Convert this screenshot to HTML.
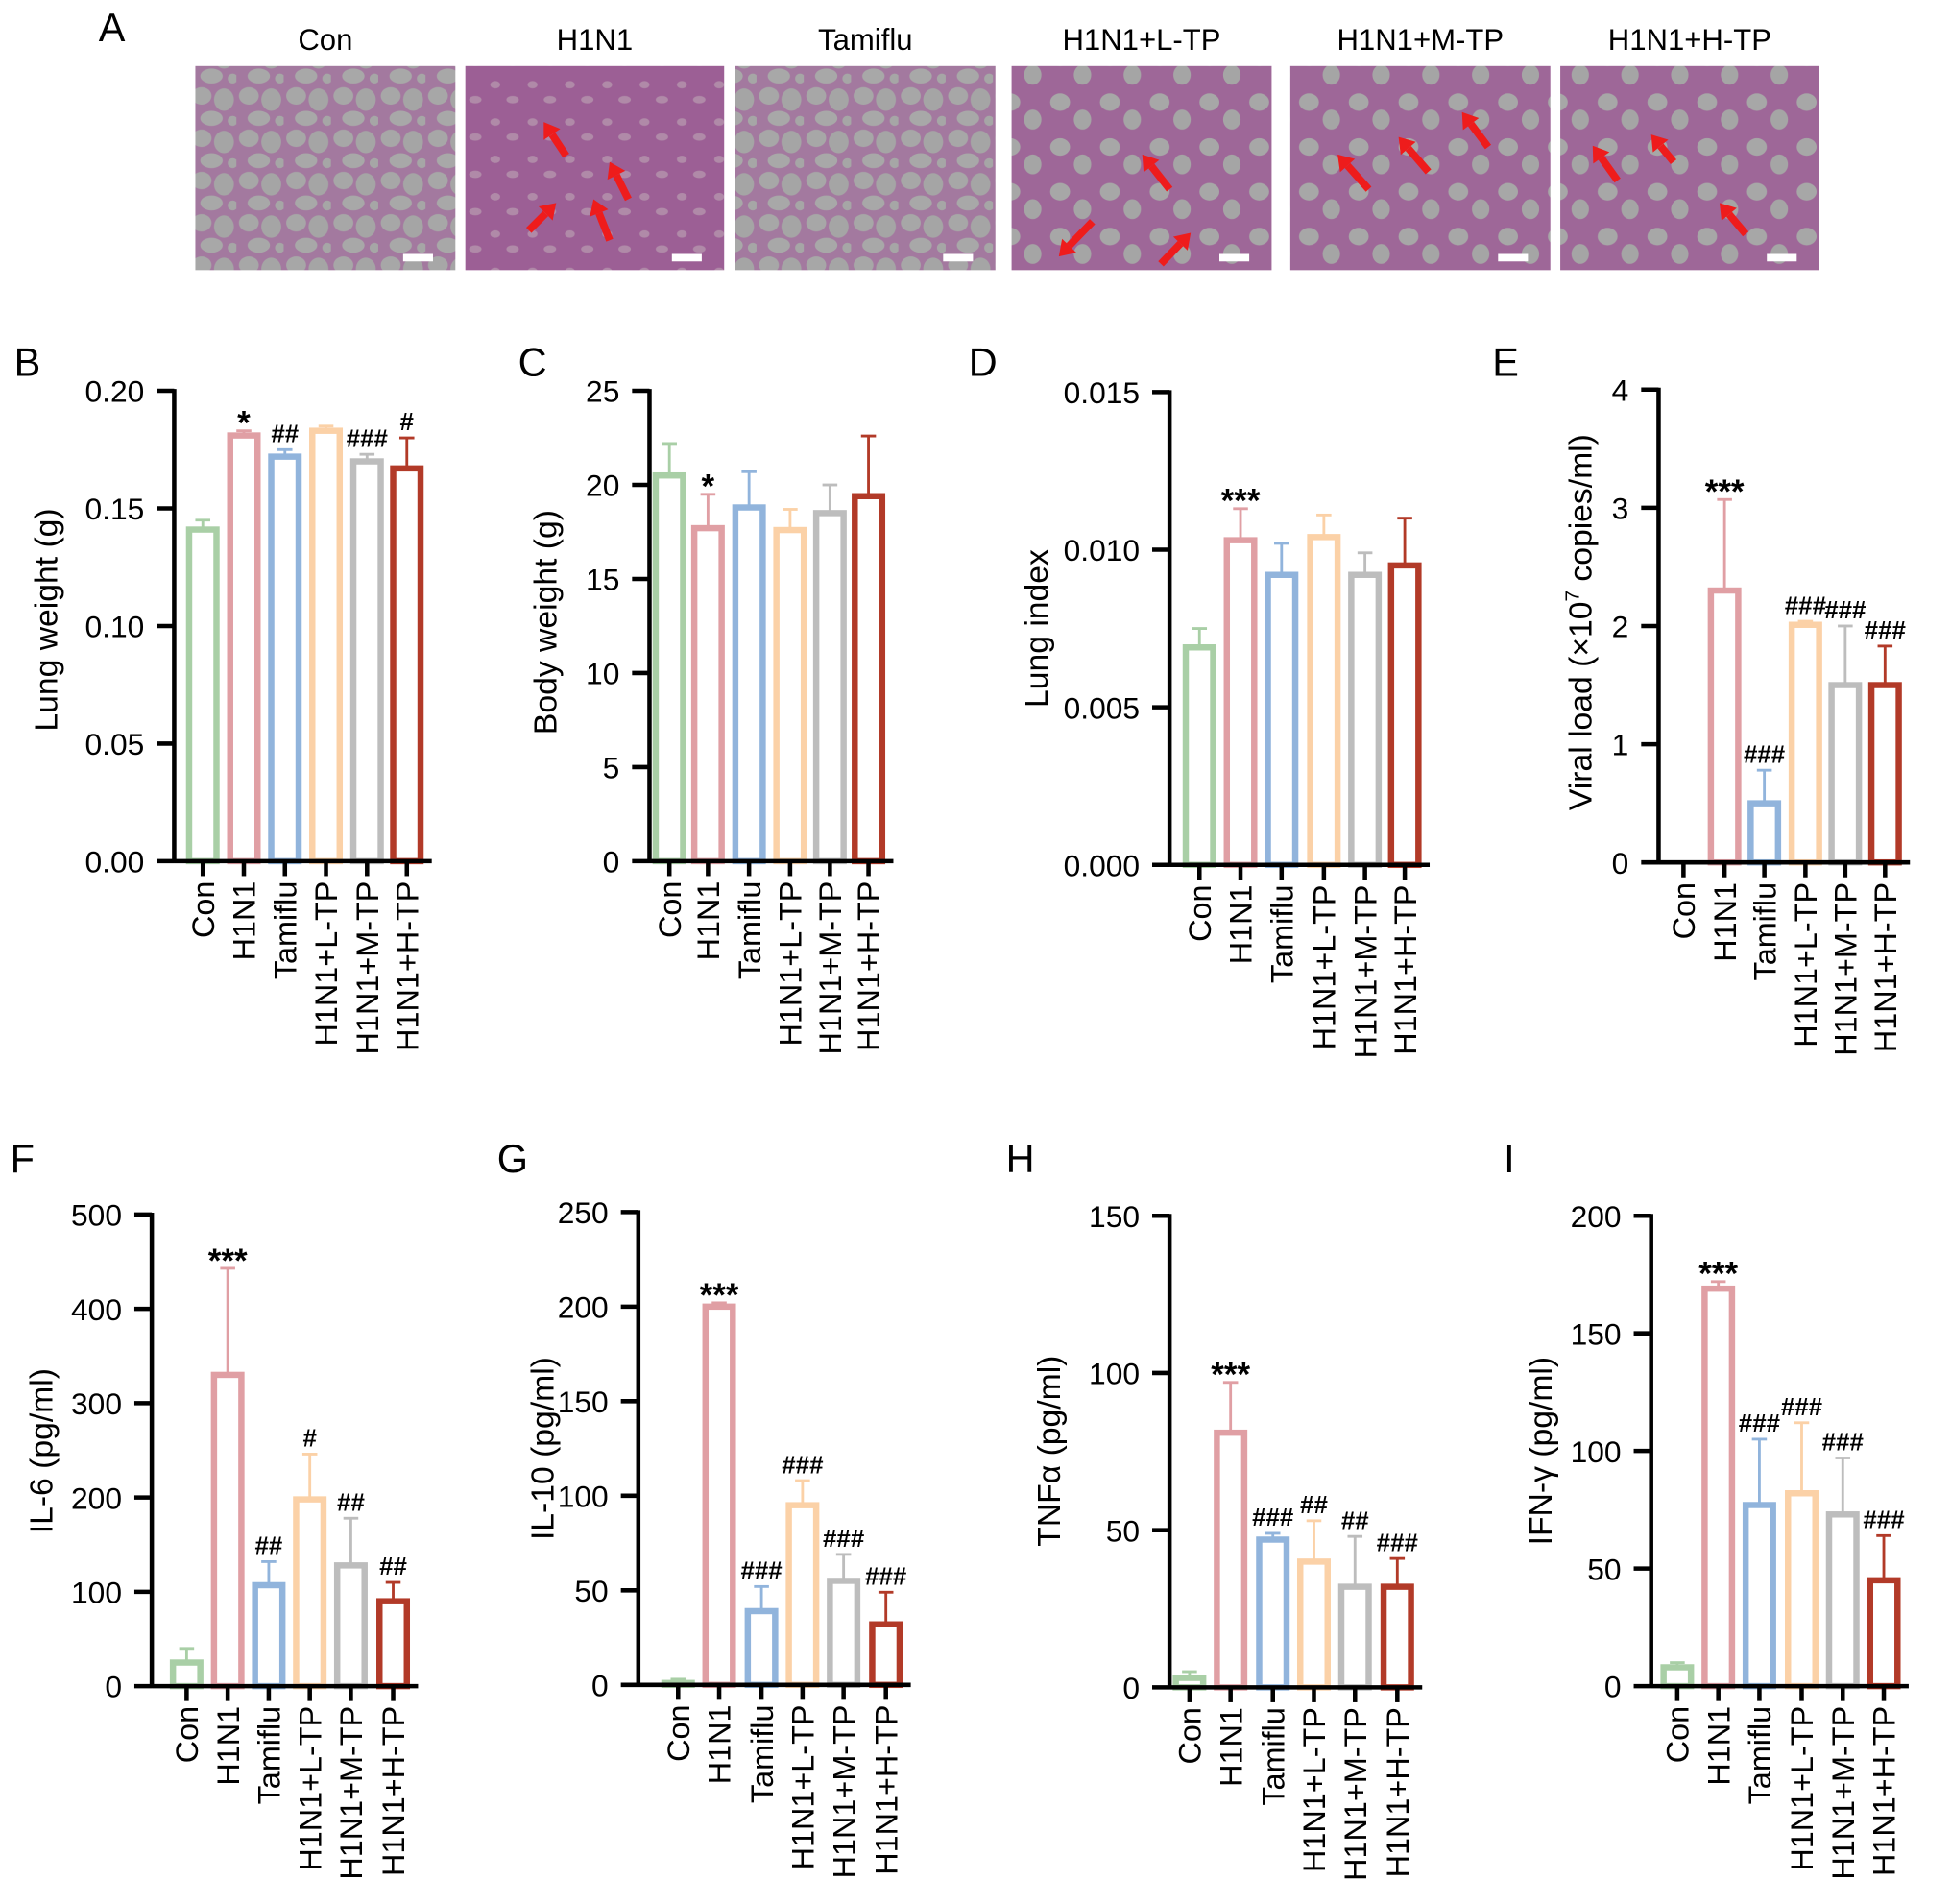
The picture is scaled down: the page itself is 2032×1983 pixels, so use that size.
<!DOCTYPE html>
<html><head><meta charset="utf-8">
<style>
html,body{margin:0;padding:0;background:#fff;}
svg{display:block;font-family:"Liberation Sans",Arial,sans-serif;}
</style></head>
<body>
<svg id="fig" width="2032" height="1983" viewBox="0 0 1568 1530" xmlns="http://www.w3.org/2000/svg">
<defs>
<pattern id="lungSparse" width="38" height="34" patternUnits="userSpaceOnUse">
<rect width="38" height="34" fill="#a3799f"/>
<ellipse cx="10" cy="9" rx="8" ry="7" fill="#a7a7a7"/>
<ellipse cx="28" cy="12" rx="8" ry="9" fill="#a5a5a5"/>
<ellipse cx="18" cy="27" rx="9" ry="6" fill="#a8a8a8"/>
<ellipse cx="35" cy="29" rx="4" ry="4" fill="#a6a6a6"/>
</pattern>
<pattern id="lungDense" width="30" height="30" patternUnits="userSpaceOnUse">
<rect width="30" height="30" fill="#9c5f95"/>
<ellipse cx="8" cy="8" rx="4" ry="3" fill="#b08aa8"/>
<ellipse cx="22" cy="20" rx="5" ry="3" fill="#b08aa8"/>
</pattern>
<pattern id="lungMid" width="40" height="36" patternUnits="userSpaceOnUse">
<rect width="40" height="36" fill="#9e6798"/>
<ellipse cx="12" cy="10" rx="8" ry="7" fill="#a7a7a7"/>
<ellipse cx="30" cy="24" rx="7" ry="8" fill="#a5a5a5"/>
</pattern>
</defs>
<g id="panelA"></g>
<g id="charts"></g>
</svg>
<script>
const NS="http://www.w3.org/2000/svg";
const svg=document.getElementById('fig');
function mk(tag,attrs,parent,text){const e=document.createElementNS(NS,tag);for(const k in attrs)e.setAttribute(k,attrs[k]);if(text!==undefined)e.textContent=text;(parent||svg).appendChild(e);return e;}

// ---------- Data ----------
const categories=["Con","H1N1","Tamiflu","H1N1+L-TP","H1N1+M-TP","H1N1+H-TP"];
const barColors=["#a9cfa6","#e09fa4","#91b4dc","#fbd1a7","#bdbdbd","#b23a28"];

const lungWeightValues=[0.141,0.181,0.172,0.183,0.170,0.167];
const lungWeightErrors=[0.004,0.002,0.003,0.002,0.003,0.013];
const lungWeightMarks=["","*","##","","###","#"];
const lungWeightTicks=["0.00","0.05","0.10","0.15","0.20"];

const bodyWeightValues=[20.5,17.7,18.8,17.6,18.5,19.4];
const bodyWeightErrors=[1.7,1.8,1.9,1.1,1.5,3.2];
const bodyWeightMarks=["","*","","","",""];
const bodyWeightTicks=["0","5","10","15","20","25"];

const lungIndexValues=[0.0069,0.0103,0.0092,0.0104,0.0092,0.0095];
const lungIndexErrors=[0.0006,0.0010,0.0010,0.0007,0.0007,0.0015];
const lungIndexMarks=["","***","","","",""];
const lungIndexTicks=["0.000","0.005","0.010","0.015"];

const viralLoadValues=[0,2.3,0.5,2.01,1.5,1.5];
const viralLoadErrors=[0,0.77,0.28,0.03,0.5,0.33];
const viralLoadMarks=["","***","###","###","###","###"];
const viralLoadTicks=["0","1","2","3","4"];

const il6Values=[25,330,107,198,128,90];
const il6Errors=[15,113,25,48,50,20];
const il6Marks=["","***","##","#","##","##"];
const il6Ticks=["0","100","200","300","400","500"];

const il10Values=[1,200,39,95,55,32];
const il10Errors=[2,2,13,13,14,17];
const il10Marks=["","***","###","###","###","###"];
const il10Ticks=["0","50","100","150","200","250"];

const tnfValues=[3,81,47,40,32,32];
const tnfErrors=[2,16,2,13,16,9];
const tnfMarks=["","***","###","##","##","###"];
const tnfTicks=["0","50","100","150"];

const ifnValues=[8,169,77,82,73,45];
const ifnErrors=[2,3,28,30,24,19];
const ifnMarks=["","***","###","###","###","###"];
const ifnTicks=["0","50","100","150","200"];

// ---------- Panel A ----------
const gA=document.getElementById('panelA');
const tA=mk('text',{x:90,y:33,'font-size':32,'text-anchor':'middle'},gA,'A');


const histo=[
 {t:"Con",x:157,w:209,p:"lungSparse",arrows:[]},
 {t:"H1N1",x:374,w:208,p:"lungDense",arrows:[[455,125,437,98],[505,160,490,130],[425,185,447,163],[490,193,477,160]]},
 {t:"Tamiflu",x:591,w:209,p:"lungSparse",arrows:[]},
 {t:"H1N1+L-TP",x:813,w:209,p:"lungMid",arrows:[[940,152,918,124],[878,178,851,206],[933,212,957,187]]},
 {t:"H1N1+M-TP",x:1037,w:209,p:"lungMid",arrows:[[1100,152,1075,124],[1148,138,1124,110],[1196,118,1175,90]]},
 {t:"H1N1+H-TP",x:1254,w:208,p:"lungMid",arrows:[[1300,145,1280,117],[1345,130,1327,108],[1403,188,1382,163]]}
];
histo.forEach((h,i)=>{
  const g=mk('g',{},gA);
  
  
  mk('rect',{x:h.x,y:53,width:h.w,height:164,fill:'url(#'+h.p+')'},g);
  const tt=mk('text',{x:h.x+h.w/2,y:40,'font-size':24,'text-anchor':'middle'},g,h.t);
  
  
  const sb=mk('rect',{x:h.x+h.w-42,y:204,width:24,height:6,fill:'#fff'},g);
  
  
  h.arrows.forEach(a=>{
    const [x1,y1,x2,y2]=a;const dx=x2-x1,dy=y2-y1,L=Math.hypot(dx,dy),ux=dx/L,uy=dy/L;
    const bx=x2-ux*12,by=y2-uy*12;
    const ln=mk('line',{x1:x1,y1:y1,x2:bx,y2:by,stroke:'#ee1c1c','stroke-width':6},g);
    
    
    mk('polygon',{points:`${x2},${y2} ${bx-uy*8},${by+ux*8} ${bx+uy*8},${by-ux*8}`,fill:'#ee1c1c'},g);
  });
});

// ---------- Charts ----------
const panels=[
 {id:"b",label:"B",lx:22,ly:302,ax:140,y0:692,y1:314,max:0.20,ticks:lungWeightTicks,vals:lungWeightValues,errs:lungWeightErrors,marks:lungWeightMarks,cx:[163,196,229,262,295,327],title:"Lung weight (g)",tx:37,ty:498},
 {id:"c",label:"C",lx:428,ly:302,ax:522,y0:692,y1:314,max:25,ticks:bodyWeightTicks,vals:bodyWeightValues,errs:bodyWeightErrors,marks:bodyWeightMarks,cx:[538,569,602,635,667,698],title:"Body weight (g)",tx:438,ty:500},
 {id:"d",label:"D",lx:790,ly:302,ax:940,y0:695,y1:315,max:0.015,ticks:lungIndexTicks,vals:lungIndexValues,errs:lungIndexErrors,marks:lungIndexMarks,cx:[964,997,1030,1064,1097,1129],title:"Lung index",tx:833,ty:505},
 {id:"e",label:"E",lx:1210,ly:302,ax:1333,y0:693,y1:313,max:4,ticks:viralLoadTicks,vals:viralLoadValues,errs:viralLoadErrors,marks:viralLoadMarks,cx:[1353,1386,1418,1451,1483,1515],title:"viral",tx:1270,ty:500},
 {id:"f",label:"F",lx:18,ly:942,ax:122,y0:1355,y1:976,max:500,ticks:il6Ticks,vals:il6Values,errs:il6Errors,marks:il6Marks,cx:[150,183,216,249,282,316],title:"IL-6 (pg/ml)",tx:33,ty:1166},
 {id:"g",label:"G",lx:412,ly:942,ax:513,y0:1354,y1:974,max:250,ticks:il10Ticks,vals:il10Values,errs:il10Errors,marks:il10Marks,cx:[545,578,612,645,678,712],title:"IL-10 (pg/ml)",tx:436,ty:1164},
 {id:"h",label:"H",lx:820,ly:942,ax:940,y0:1356,y1:977,max:150,ticks:tnfTicks,vals:tnfValues,errs:tnfErrors,marks:tnfMarks,cx:[956,989,1023,1056,1089,1123],title:"TNFα (pg/ml)",tx:843,ty:1166},
 {id:"i",label:"I",lx:1213,ly:942,ax:1327,y0:1355,y1:977,max:200,ticks:ifnTicks,vals:ifnValues,errs:ifnErrors,marks:ifnMarks,cx:[1348,1381,1414,1448,1481,1514],title:"IFN-γ (pg/ml)",tx:1238,ty:1166}
];
const root=document.getElementById('charts');
panels.forEach(P=>{
  const g=mk('g',{},root);
  
  
  const yS=v=>P.y0-(v/P.max)*(P.y0-P.y1);
  const lab=mk('text',{x:P.lx,y:P.ly,'font-size':32,'text-anchor':'middle'},g,P.label);
  
  
  P.vals.forEach((v,i)=>{
    const cx=P.cx[i],top=yS(v),col=barColors[i],w=22;
    const bg=mk('g',{},g);
    
    
    if(P.errs[i]>0){
      const et=yS(v+P.errs[i]);
      mk('line',{x1:cx,y1:top,x2:cx,y2:et,stroke:col,'stroke-width':2.2},bg);
      mk('line',{x1:cx-6,y1:et,x2:cx+6,y2:et,stroke:col,'stroke-width':2.2},bg);
    }
    if(v>0){
      mk('rect',{x:cx-w/2,y:top,width:w,height:P.y0-top,fill:'#fff',stroke:col,'stroke-width':5},bg);
    }
    if(P.marks[i]){
      const my=yS(v+P.errs[i])-6;
      const star=P.marks[i].indexOf('*')>=0;
      const m=mk('text',{x:cx,y:star?my+9:my,'font-size':star?27:20,'font-weight':'bold','text-anchor':'middle'},g,P.marks[i]);
      
      
    }
  });
  const ya=mk('line',{x1:P.ax,y1:P.y1-1.5,x2:P.ax,y2:P.y0+1.5,stroke:'#000','stroke-width':3.5},g);
  
  
  const xa=mk('line',{x1:P.ax,y1:P.y0,x2:P.cx[5]+20,y2:P.y0,stroke:'#000','stroke-width':3.5},g);
  
  
  const n=P.ticks.length-1;
  P.ticks.forEach((t,k)=>{
    const y=yS(P.max*k/n);
    mk('line',{x1:P.ax-14,y1:y,x2:P.ax,y2:y,stroke:'#000','stroke-width':3.5},g);
    const tl=mk('text',{x:P.ax-24,y:y+9,'font-size':24.5,'text-anchor':'end'},g,t);
    
    
  });
  categories.forEach((c,i)=>{
    const cx=P.cx[i];
    mk('line',{x1:cx,y1:P.y0,x2:cx,y2:P.y0+12,stroke:'#000','stroke-width':3.5},g);
    const xl=mk('text',{x:0,y:0,'font-size':25,'text-anchor':'end',transform:`translate(${cx+9},${P.y0+16}) rotate(-90)`},g,c);
    
    
  });
  const tt=mk('text',{x:0,y:0,'font-size':26,'text-anchor':'middle',transform:`translate(${P.tx+9},${P.ty}) rotate(-90)`},g);
  
  
  if(P.title==="viral"){
    mk('tspan',{},tt,'Viral load (×10');
    mk('tspan',{'font-size':16,dy:-10},tt,'7');
    mk('tspan',{dy:10},tt,' copies/ml)');
  } else tt.textContent=P.title;
});
</script>
</body></html>
